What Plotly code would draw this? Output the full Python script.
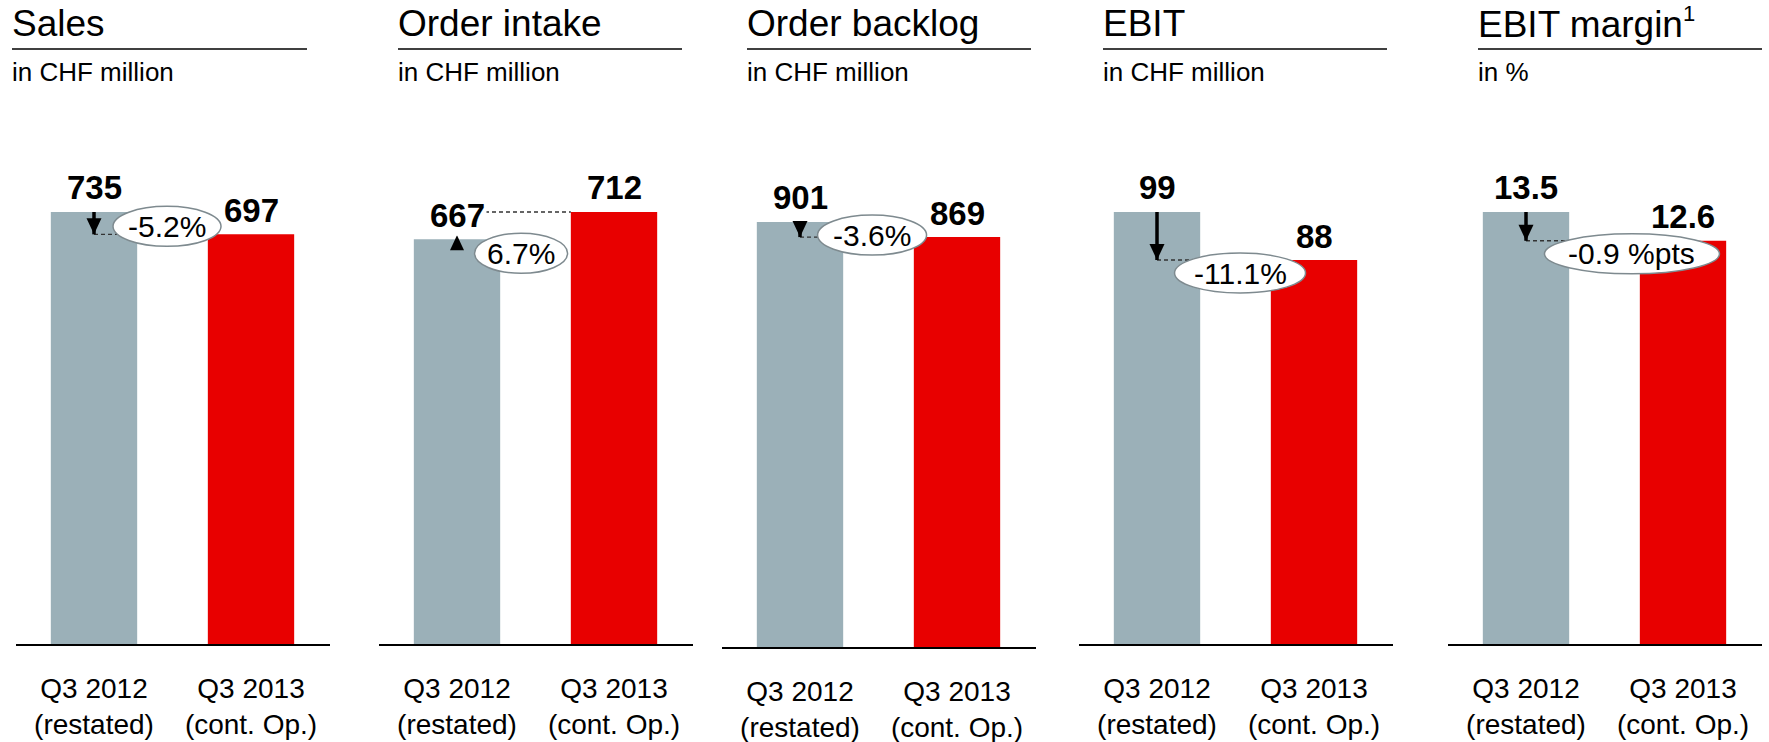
import plotly.graph_objects as go

W, H = 1769, 742

# data
metrics = ["Sales", "Order intake", "Order backlog", "EBIT",
           "EBIT margin<sup><span style='font-size:22px'>1</span></sup>"]
units = ["in CHF million", "in CHF million", "in CHF million", "in CHF million", "in %"]
periods = ["Q3 2012<br>(restated)", "Q3 2013<br>(cont. Op.)"]
q3_2012 = [735, 667, 901, 99, 13.5]
q3_2013 = [697, 712, 869, 88, 12.6]
changes = ["-5.2%", "6.7%", "-3.6%", "-11.1%", "-0.9 %pts"]

# layout (pixels in the 1769x742 page)
gray_center = [94, 457, 800, 1157, 1526]
step = 157
base_px = [644, 644, 647, 644, 644]
maxtop_px = [212, 212, 222, 212, 212]
title_x0 = [12, 398, 747, 1103, 1478]
title_x1 = [307, 682, 1031, 1387, 1762]
oval_dx = [0.465, 0.408, 0.459, 0.529, 0.675]
oval_up = [8, -14, 2, -13, -13]
oval_w = [108, 93, 109, 131, 175]
oval_h = 40

GRAY = "#9BB0B8"
RED = "#E80000"
FONT = "Liberation Sans, Arial, sans-serif"


def px_x(p):
    return p / W


def px_y(p):
    return 1 - p / H


fig = go.Figure()
shapes = []
annotations = []

for i in range(5):
    n = i + 1
    xa, ya = f"x{n}", f"y{n}"
    g, r = q3_2012[i], q3_2013[i]
    vmax = max(g, r)
    ppu = (base_px[i] - maxtop_px[i]) / vmax
    top_dom = 150
    ymax = (base_px[i] - top_dom) / ppu

    fig.add_trace(go.Bar(x=[0, 1], y=[g, r], width=0.55,
                         marker=dict(color=[GRAY, RED], line=dict(width=0)),
                         xaxis=xa, yaxis=ya, hoverinfo="skip"))

    left = gray_center[i] - 78
    right = min(gray_center[i] + 236, W - 6)
    fig.layout[f"xaxis{n}"] = dict(
        domain=[px_x(left), px_x(right)], anchor=ya,
        range=[-78 / step, (right - gray_center[i]) / step], tickvals=[0, 1], ticktext=periods,
        showgrid=False, zeroline=False, ticks="", showline=True,
        linecolor="black", linewidth=2, tickfont=dict(size=28, color="black", family=FONT),
        ticklabelstandoff=18, fixedrange=True)
    fig.layout[f"yaxis{n}"] = dict(
        domain=[px_y(base_px[i]), px_y(top_dom)], anchor=xa, range=[0, ymax],
        visible=False, fixedrange=True)

    # headers
    annotations.append(dict(text=metrics[i], xref="paper", yref="paper",
                            x=px_x(title_x0[i] - 2), y=px_y(23), xanchor="left", yanchor="middle",
                            showarrow=False, font=dict(size=37, color="black", family=FONT)))
    annotations.append(dict(text=units[i], xref="paper", yref="paper",
                            x=px_x(title_x0[i] - 2), y=px_y(72), xanchor="left", yanchor="middle",
                            showarrow=False, font=dict(size=26, color="black", family=FONT)))
    shapes.append(dict(type="line", xref="paper", yref="paper",
                       x0=px_x(title_x0[i]), x1=px_x(title_x1[i]), y0=px_y(49), y1=px_y(49),
                       line=dict(color="black", width=1.5)))

    # value labels
    for k, v in enumerate([g, r]):
        annotations.append(dict(text=f"<b>{v:g}</b>", xref=xa, yref=ya, x=k, y=v,
                                yanchor="middle", yshift=24, showarrow=False,
                                bgcolor="white" if k == 0 else None,
                                font=dict(size=33, color="black", family=FONT)))

    # dashed reference line at the Q3 2013 level
    shapes.append(dict(type="line", xref=xa, yref=ya, x0=0, x1=1 - 0.275, y0=r, y1=r,
                       line=dict(color="#333333", width=1.4, dash="4px,3px")))

    # arrow from the Q3 2012 level towards the Q3 2013 level
    if r < g:
        shapes.append(dict(type="line", xref=xa, yref=ya, x0=0, x1=0, y0=g, y1=r,
                           ysizemode="scaled", line=dict(color="black", width=3.5)))
        shapes.append(dict(type="path", xref=xa, yref=ya, xsizemode="pixel", ysizemode="pixel",
                           xanchor=0, yanchor=r, path="M0,0 L-7.5,16 L7.5,16 Z",
                           fillcolor="black", line=dict(width=0)))
    else:
        shapes.append(dict(type="path", xref=xa, yref=ya, xsizemode="pixel", ysizemode="pixel",
                           xanchor=0, yanchor=g, path="M0,4 L-7,-11 L7,-11 Z",
                           fillcolor="black", line=dict(width=0)))

    # change oval
    low = min(g, r)
    cx = oval_dx[i]
    shapes.append(dict(type="circle", xref=xa, yref=ya, xsizemode="pixel", ysizemode="pixel",
                       xanchor=cx, yanchor=low,
                       x0=-oval_w[i] / 2, x1=oval_w[i] / 2,
                       y0=oval_up[i] - oval_h / 2, y1=oval_up[i] + oval_h / 2,
                       fillcolor="white", line=dict(color="#7E8A8F", width=1.5)))
    annotations.append(dict(text=changes[i], xref=xa, yref=ya, x=cx, y=low,
                            yanchor="middle", yshift=oval_up[i], showarrow=False,
                            font=dict(size=30, color="black", family=FONT)))

fig.update_layout(
    width=W, height=H, margin=dict(l=0, r=0, t=0, b=0),
    paper_bgcolor="white", plot_bgcolor="white", showlegend=False,
    font=dict(family=FONT, color="black"),
    shapes=shapes, annotations=annotations,
)

fig.write_html("out.html", config={"displayModeBar": False},
               post_script="document.body.style.margin='0';")
